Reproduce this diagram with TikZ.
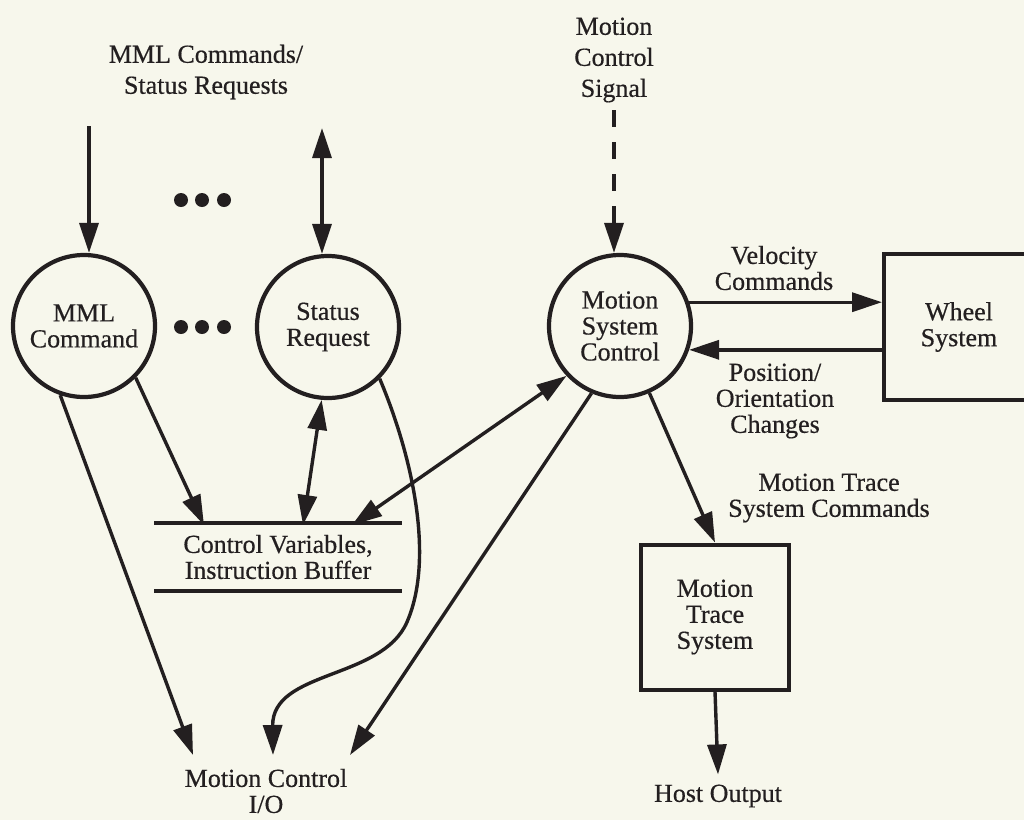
\documentclass[tikz,border=0pt]{standalone}
\usepackage{fontspec}
\setmainfont{Liberation Serif}[FakeBold=0.5]
\usetikzlibrary{arrows.meta}
\definecolor{paper}{RGB}{247,247,236}
\definecolor{ink}{RGB}{35,31,32}
\begin{document}
\begin{tikzpicture}[x=1pt,y=-1pt,
  every node/.style={text=ink, font=\fontsize{26}{26}\selectfont, align=center, inner sep=0pt},
  proc/.style={circle, draw=ink, line width=4.2pt, minimum size=142pt},
  unit/.style={rectangle, draw=ink, line width=4pt},
  tall/.style={font=\fontsize{26}{31}\selectfont},
  flow/.style={draw=ink, line width=3.4pt, -{Triangle[length=30pt,width=19pt]}},
  flowboth/.style={draw=ink, line width=3.4pt, {Triangle[length=30pt,width=19pt]}-{Triangle[length=30pt,width=19pt]}},
  ctrl/.style={flow, dash pattern=on 17pt off 15pt},
  storeline/.style={draw=ink, line width=3.8pt}
]
\useasboundingbox (0,0) rectangle (1024,820);
\fill[paper] (0,0) rectangle (1024,820);
\clip (0,0) rectangle (1024,820);

% processes
\node[proc] (mml) at (84,326) {MML\\Command};
\node[proc] (sr)  at (328,327) {Status\\Request};
\node[proc] (msc) at (620,326) {Motion\\System\\Control};

% external units
\node[unit, minimum width=150pt, minimum height=146pt] (wheel) at (959,327) {Wheel\\System};
\node[unit, minimum width=148pt, minimum height=145pt] (mts) at (715,617) {Motion\\Trace\\System};

% data store
\node[minimum width=247pt, minimum height=68pt] (cv) at (278,557) {Control Variables,\\Instruction Buffer};
\draw[storeline] (cv.north west) -- (cv.north east);
\draw[storeline] (cv.south west) -- (cv.south east);

% labels
\node[tall] (cmdin) at (206,72) {MML Commands/\\Status Requests};
\node[tall] (sig)   at (614,60) {Motion\\Control\\Signal};
\node (vel)  at (774,268) {Velocity\\Commands};
\node (pos)  at (775,401) {Position/\\Orientation\\Changes};
\node (mtsc) at (829,498) {Motion Trace\\System Commands};
\node (io)   at (266,791) {Motion Control\\I/O};
\node (host) at (718,796) {Host Output};

% free ends of connectors
\coordinate (in1) at (89,126);
\coordinate (in2) at (322,128);
\coordinate (sigend) at (614,110);
\coordinate (cvA) at (204,525);
\coordinate (cvB) at (303,525);
\coordinate (cvC) at (352,525);
\coordinate (ioA) at (193,755);
\coordinate (ioB) at (273,755);
\coordinate (ioC) at (350,755);

% ellipsis dots
\foreach \x in {181,202,224} {
  \fill[ink] (\x,200) circle[radius=7pt];
  \fill[ink] (\x,327) circle[radius=7pt];
}

% incoming commands and status requests
\draw[flow] (in1) -- (in1 |- mml.north);
\draw[flowboth] (in2) -- (in2 |- sr.north);
\draw[ctrl] (sigend) -- (sigend |- msc.north);

% links with the data store
\draw[flow] (mml.-45) -- (cvA);
\draw[flowboth] (sr.-95) -- (cvB);
\draw[flowboth] (msc.-137) -- (cvC);

% links to motion control I/O
\draw[flow] (mml.-109) -- (ioA);
\draw[flow] (sr.-45) .. controls (414,460) and (434,560) .. (407,622)
                     .. controls (382,680) and (272,670) .. (ioB);
\draw[flow] (msc.-113) -- (ioC);

% wheel system
\draw[flow] (msc.19) -- (msc.19 -| wheel.west);
\draw[flow] (wheel.west |- msc.-19) -- (msc.-19);

% motion trace system
\draw[flow] (msc) -- (mts.north);
\draw[flow] (mts.south) -- ([yshift=10pt]host.north);
\end{tikzpicture}
\end{document}
